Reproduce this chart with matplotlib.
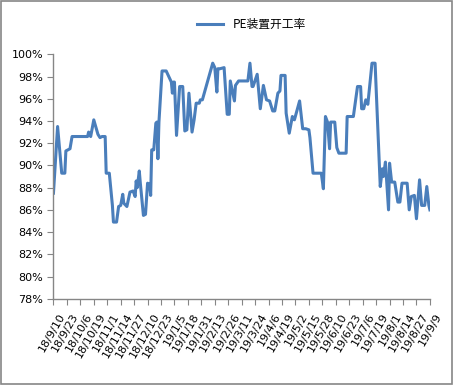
import pandas as pd
import matplotlib
matplotlib.use('Agg')
import matplotlib.pyplot as plt
import matplotlib.patches as patches
import matplotlib.transforms as mtransforms
from matplotlib.ticker import FuncFormatter

plt.rcParams['font.family'] = ['DejaVu Sans']

start = pd.Timestamp('2018-09-10')

# days after start, and PE plant operating rate (%)
day_offsets = [0, 4, 8, 11, 12, 16, 18, 33, 34, 36, 39, 43, 45, 47, 50, 51, 54, 57, 58, 61,
               63, 65, 67, 68, 71, 74, 77, 79, 80, 81, 83, 84, 87, 89, 91, 93, 94, 95, 97, 99,
               100, 101, 102, 105, 109, 114, 115, 116, 117, 119, 122, 125, 127, 129, 131, 134, 136, 138, 141, 142,
               144, 154, 156, 158, 159, 161, 165, 168, 170, 171, 175, 176, 179, 188, 190, 192, 193, 197, 200, 203,
               206, 209, 212, 214, 217, 219, 220, 224, 225, 228, 231, 233, 238, 241, 244, 247, 248, 251, 259, 261,
               263, 265, 267, 268, 272, 274, 276, 283, 284, 290, 294, 297, 298, 300, 302, 304, 308, 311, 316, 318,
               319, 321, 324, 325, 327, 330, 333, 335, 337, 342, 344, 346, 349, 351, 354, 356, 359, 361, 363, 364]
rate = [87.5, 93.5, 89.3, 89.3, 91.3, 91.5, 92.6, 92.6, 93.0, 92.6, 94.1, 92.8, 92.5, 92.6, 92.6, 89.3, 89.3, 86.4, 84.9, 84.9,
        86.3, 86.4, 87.4, 86.6, 86.3, 87.6, 87.7, 87.2, 88.6, 88.0, 89.5, 88.4, 85.5, 85.6, 88.4, 88.3, 87.3, 91.4, 91.4, 93.8,
        93.9, 90.6, 93.9, 98.5, 98.5, 97.5, 96.5, 97.5, 97.5, 92.7, 97.1, 97.1, 93.1, 93.2, 96.5, 93.0, 94.1, 95.6, 95.6, 95.9,
        95.9, 99.2, 98.8, 96.6, 98.7, 98.7, 98.8, 94.6, 94.6, 97.6, 95.8, 97.2, 97.6, 97.6, 99.2, 97.1, 97.1, 98.2, 95.1, 97.2,
        95.9, 95.8, 94.9, 94.9, 96.5, 96.7, 98.1, 98.1, 94.7, 92.9, 94.4, 94.1, 95.8, 93.3, 93.3, 93.2, 92.5, 89.3, 89.3, 87.9,
        94.4, 93.9, 91.5, 93.9, 93.9, 91.6, 91.1, 91.1, 94.4, 94.4, 97.1, 97.1, 95.1, 95.1, 95.9, 95.5, 99.2, 99.2, 88.1, 89.7,
        89.0, 90.3, 86.0, 90.2, 88.5, 88.5, 86.7, 86.7, 88.4, 88.4, 86.0, 87.2, 87.3, 85.2, 88.7, 86.4, 86.4, 88.1, 86.4, 86.0]

tick_labels = ['18/9/10', '18/9/23', '18/10/6', '18/10/19', '18/11/1', '18/11/14', '18/11/27', '18/12/10',
               '18/12/23', '19/1/5', '19/1/18', '19/1/31', '19/2/13', '19/2/26', '19/3/11', '19/3/24', '19/4/6',
               '19/4/19', '19/5/2', '19/5/15', '19/5/28', '19/6/10', '19/6/23', '19/7/6', '19/7/19', '19/8/1',
               '19/8/14', '19/8/27', '19/9/9']
y_ticks = [78, 80, 82, 84, 86, 88, 90, 92, 94, 96, 98, 100]

dates = start + pd.to_timedelta(day_offsets, unit='D')
tick_dates = [pd.to_datetime('20' + t, format='%Y/%m/%d') for t in tick_labels]

fig = plt.figure(figsize=(4.53, 3.85), dpi=100)
ax = fig.add_axes([0.118, 0.224, 0.831, 0.635])

ax.plot(dates, rate, color='#4a7ebb', lw=2.2, label='PE装置开工率', solid_joinstyle='round')

ax.set_ylim(78, 100)
ax.set_yticks(y_ticks)
ax.yaxis.set_major_formatter(FuncFormatter(lambda v, p: '%d%%' % v))
ax.set_xlim(tick_dates[0], tick_dates[-1])
ax.set_xticks(tick_dates)
ax.set_xticklabels(tick_labels, rotation=60, ha='right', va='top', rotation_mode='anchor')

for s in ['top', 'right']:
    ax.spines[s].set_visible(False)
for s in ['left', 'bottom']:
    ax.spines[s].set_color('#868686')
    ax.spines[s].set_linewidth(1)
ax.tick_params(axis='both', direction='out', length=4, color='#868686', labelsize=8, labelcolor='black')
ax.tick_params(axis='x', pad=5)

# nudge the rotated date labels to the right, like the original
shift = mtransforms.ScaledTranslation(5 / 100, 0, fig.dpi_scale_trans)
for lab in ax.get_xticklabels():
    lab.set_transform(lab.get_transform() + shift)

leg = fig.legend(loc='upper center', bbox_to_anchor=(0.555, 0.98), frameon=False, handlelength=2.2,
                 prop={'family': ['Noto Sans CJK SC', 'DejaVu Sans'], 'size': 8.5})

fig.patches.append(patches.Rectangle((0.002, 0.002), 0.995, 0.995, transform=fig.transFigure,
                                     fill=False, edgecolor='#868686', lw=1.2))

fig.savefig('out.png', dpi=100)
